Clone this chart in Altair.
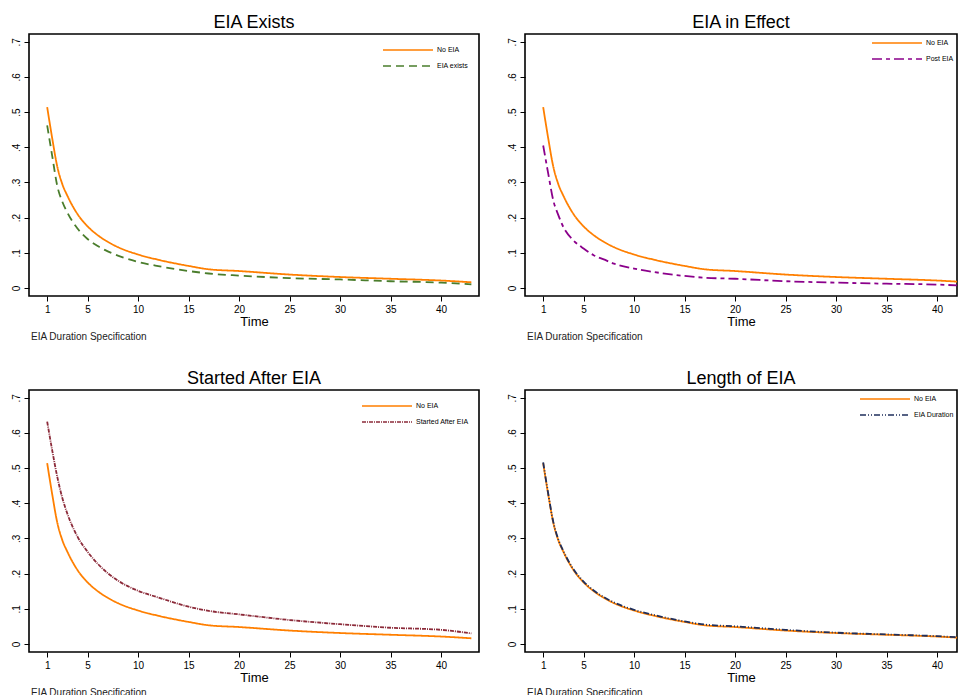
import altair as alt
import pandas as pd

FONT = "Liberation Sans"
NOTE = "EIA Duration Specification"

time = [1, 1.5, 2, 2.5, 3, 4, 5, 6, 7, 8, 10, 12, 15, 17, 20, 25, 30, 35, 40, 43]
no_eia = [0.514, 0.425, 0.345, 0.295, 0.262, 0.210, 0.175, 0.150, 0.131, 0.116,
          0.095, 0.080, 0.0625, 0.053, 0.048, 0.038, 0.031, 0.026, 0.021, 0.016]
eia_exists = [0.462, 0.375, 0.29, 0.245, 0.214, 0.169, 0.139, 0.119, 0.104, 0.092,
              0.074, 0.062, 0.048, 0.041, 0.035, 0.028, 0.024, 0.019, 0.015, 0.010]
post_eia = [0.405, 0.325, 0.249, 0.207, 0.173, 0.135, 0.112, 0.093, 0.081, 0.069,
            0.055, 0.045, 0.034, 0.029, 0.026, 0.019, 0.015, 0.012, 0.0095, 0.006]
started_after = [0.632, 0.55, 0.475, 0.415, 0.370, 0.305, 0.262, 0.228, 0.201, 0.18,
                 0.151, 0.132, 0.106, 0.094, 0.084, 0.068, 0.056, 0.046, 0.040, 0.030]
eia_duration = [0.516, 0.427, 0.347, 0.297, 0.264, 0.212, 0.177, 0.152, 0.133, 0.118,
                0.097, 0.082, 0.064, 0.055, 0.050, 0.040, 0.032, 0.027, 0.022, 0.017]

x_ticks = [1, 5, 10, 15, 20, 25, 30, 35, 40]
y_ticks = [0, 0.1, 0.2, 0.3, 0.4, 0.5, 0.6, 0.7]

ORANGE = "#ff7f00"
H = 262
PX_PER_UNIT = 10.1


def panel(title, other_name, other_vals, other_color, other_dash, width, leg_offset):
    df = pd.DataFrame({
        "Time": time + time,
        "value": no_eia + other_vals,
        "series": ["No EIA"] * len(time) + [other_name] * len(time),
    })
    dom = ["No EIA", other_name]
    x_max = -0.8 + width / PX_PER_UNIT
    leg = alt.Legend(
        title=None, orient="top-right", offset=leg_offset, padding=0,
        symbolType="M-5,0H5", symbolSize=100, symbolOffset=18,
        symbolStrokeWidth=1.5, labelOffset=23, labelFontSize=7,
        labelFont=FONT, labelColor="black", rowPadding=7,
    )
    lines = alt.Chart(df).mark_line(
        strokeWidth=1.8, interpolate="monotone", clip=True
    ).encode(
        x=alt.X("Time:Q",
                scale=alt.Scale(domain=[-0.8, x_max], nice=False, zero=False),
                axis=alt.Axis(values=x_ticks, title="Time", labelFontSize=10,
                              labelPadding=3, titleFontSize=13, titlePadding=1,
                              labelFlush=False, grid=False, domain=False)),
        y=alt.Y("value:Q",
                scale=alt.Scale(domain=[-0.023, 0.722], nice=False, zero=False),
                axis=alt.Axis(values=y_ticks, title=None, labelAngle=270,
                              labelAlign="center", labelBaseline="bottom",
                              labelFontSize=10, labelPadding=3, labelFlush=False,
                              grid=False, domain=False,
                              labelExpr="datum.value == 0 ? '0' : replace(format(datum.value, '.1f'), '0.', '.')")),
        color=alt.Color("series:N", sort=dom,
                        scale=alt.Scale(domain=dom, range=[ORANGE, other_color]),
                        legend=leg),
        strokeDash=alt.StrokeDash("series:N", sort=dom,
                                  scale=alt.Scale(domain=dom, range=[[1, 0], other_dash]),
                                  legend=leg),
    )
    note = alt.Chart(pd.DataFrame({"note": [NOTE]})).mark_text(
        align="left", baseline="middle", fontSize=10, font=FONT, color="#222222"
    ).encode(x=alt.value(2), y=alt.value(H + 41), text="note:N")
    return alt.layer(lines, note).properties(
        width=width, height=H,
        title=alt.TitleParams(title, fontSize=18, font=FONT, fontWeight="normal",
                              color="black", anchor="middle", offset=2),
    ).resolve_scale(color="shared", strokeDash="shared")


WL, WR = 450, 432
p1 = panel("EIA Exists", "EIA exists", eia_exists, "#4a7d2c", [8, 5], WL, 10)
p2 = panel("EIA in Effect", "Post EIA", post_eia, "#8b008b", [10, 4, 4, 4], WR, 3)
p3 = panel("Started After EIA", "Started After EIA", started_after, "#8c2b3a", [4, 1, 1, 1], WL, 10)
p4 = panel("Length of EIA", "EIA Duration", eia_duration, "#1f2f5c", [6, 2, 1, 2, 1, 2], WR, 3)

ind = dict(color="independent", strokeDash="independent")
top = alt.hconcat(p1, p2, spacing=26).resolve_scale(**ind).resolve_legend(**ind)
bottom = alt.hconcat(p3, p4, spacing=26).resolve_scale(**ind).resolve_legend(**ind)
chart = alt.vconcat(top, bottom, spacing=26).resolve_scale(**ind).resolve_legend(**ind)

chart = chart.properties(
    padding={"left": 2, "top": 5, "right": 0, "bottom": 0}
).configure(background="white").configure_view(
    stroke="black", strokeWidth=1.6
).configure_axis(
    domain=False, grid=False, tickColor="black", tickSize=5, tickWidth=1,
    labelColor="black", titleColor="black", labelFont=FONT, titleFont=FONT,
    titleFontWeight="normal",
)

chart.save("out.html", embed_options={"renderer": "svg", "actions": False})
